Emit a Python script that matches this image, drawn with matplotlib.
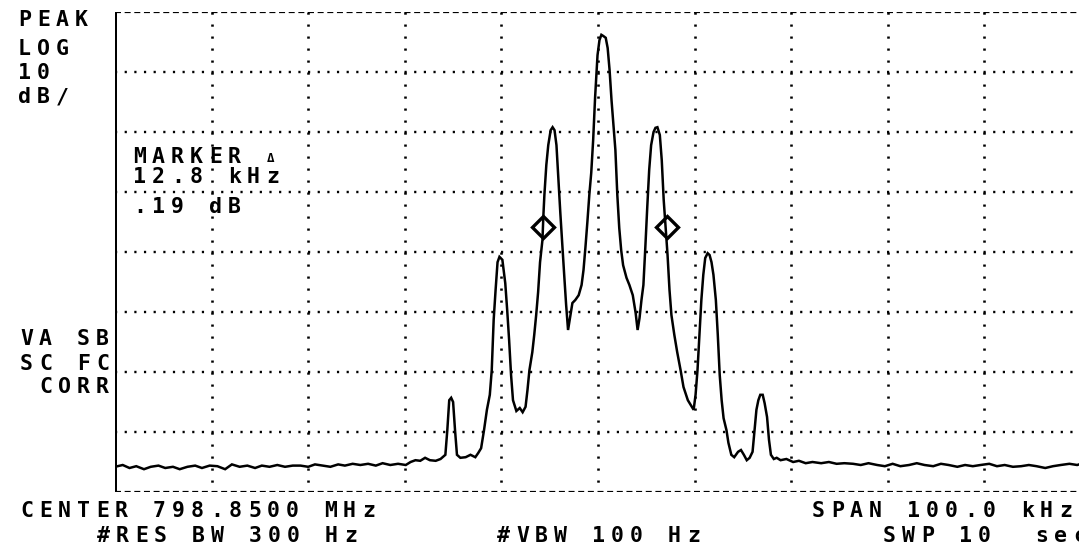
import matplotlib
matplotlib.use("Agg")
import matplotlib.pyplot as plt

plt.rcParams['lines.scale_dashes'] = False

W, H = 1079, 545

# trace: offset from 798.85 MHz (kHz), level below top line (dB)
trace_khz = [
    -50.0, -49.2, -48.5, -47.8, -47.0, -46.3, -45.5, -44.8, -44.0, -43.3,
    -42.5, -41.7, -41.0, -40.2, -39.4, -38.6, -37.9, -37.1, -36.3, -35.5,
    -34.8, -34.0, -33.2, -32.4, -31.6, -30.8, -30.0, -29.3, -28.5, -27.7,
    -26.9, -26.2, -25.4, -24.6, -23.8, -23.0, -22.3, -21.5, -20.7, -19.9,
    -19.4, -18.9, -18.4, -17.9, -17.4, -16.8, -16.3,
    -15.8, -15.6, -15.4, -15.2, -15.0, -14.8, -14.6, -14.25, -13.7, -13.2,
    -12.7, -12.4, -12.1, -11.8, -11.5, -11.2, -11.0, -10.8, -10.6, -10.4,
    -10.2, -9.9, -9.6, -9.4, -9.2, -9.0, -8.8, -8.45, -8.1, -7.8,
    -7.5, -7.3, -7.1, -6.8, -6.6, -6.4, -6.2, -6.0, -5.75, -5.65,
    -5.55, -5.35, -5.15, -4.9, -4.7, -4.5, -4.3, -4.1, -3.9, -3.7,
    -3.5, -3.3, -3.1, -2.85, -2.65, -2.35, -2.0, -1.7, -1.5, -1.3,
    -1.1, -0.9, -0.7, -0.5, -0.3, -0.05, 0.15, 0.35, 0.55, 0.8,
    1.0, 1.2, 1.4, 1.6, 1.8, 2.0, 2.2, 2.4, 2.6, 2.95,
    3.25, 3.6, 3.9, 4.1, 4.3, 4.5, 4.7, 4.9, 5.1, 5.3,
    5.5, 5.75, 5.95, 6.15, 6.4, 6.6, 6.8, 7.0, 7.2, 7.4,
    7.6, 7.9, 8.2, 8.55, 8.85, 9.3, 9.6, 9.9, 10.1, 10.3,
    10.5, 10.7, 10.9, 11.1, 11.35, 11.55, 11.75, 11.95, 12.2, 12.4,
    12.6, 12.8, 13.0, 13.3, 13.5, 13.8, 14.1, 14.5, 14.8, 15.1,
    15.4, 15.7, 16.0, 16.2, 16.4, 16.6, 16.8, 17.05, 17.25, 17.5,
    17.7, 17.9, 18.2, 18.5,
    18.9, 19.5, 20.2, 20.8, 21.5, 22.2, 23.1, 23.9, 24.7, 25.5,
    26.4, 27.2, 28.0, 28.9, 29.7, 30.5, 31.3, 32.2, 33.0, 33.8,
    34.7, 35.5, 36.3, 37.2, 38.0, 38.8, 39.6, 40.5, 41.3, 42.1,
    42.95, 43.8, 44.6, 45.4, 46.3, 47.1, 47.9, 48.8, 49.6, 50.0,
]
trace_db = [
    -75.8, -75.5, -76.0, -75.7, -76.2, -75.8, -75.6, -76.0, -75.8, -76.2,
    -75.8, -75.6, -76.0, -75.6, -75.7, -76.2, -75.4, -75.8, -75.6, -76.0,
    -75.6, -75.8, -75.5, -75.8, -75.6, -75.6, -75.8, -75.4, -75.6, -75.8,
    -75.4, -75.6, -75.3, -75.5, -75.3, -75.6, -75.2, -75.5, -75.3, -75.5,
    -75.0, -74.7, -74.8, -74.3, -74.7, -74.8, -74.5,
    -73.8, -69.7, -64.7, -64.3, -65.0, -69.7, -73.8, -74.3, -74.2, -73.8,
    -74.2, -73.5, -72.7, -69.7, -66.3, -63.8, -59.7, -51.3, -46.3, -41.7,
    -40.8, -41.3, -45.2, -49.7, -54.7, -60.5, -64.7, -66.5, -66.0, -66.7,
    -65.8, -63.0, -59.7, -56.7, -53.8, -50.5, -46.7, -41.7, -38.0, -33.8,
    -30.5, -25.5, -22.2, -19.7, -19.2, -19.7, -22.2, -28.0, -33.5, -38.8,
    -43.8, -48.8, -53.0, -50.5, -48.5, -48.0, -47.2, -45.5, -43.0, -39.2,
    -35.0, -30.5, -26.8, -21.3, -14.2, -7.2, -4.7, -3.8, -4.0, -4.3,
    -6.0, -9.7, -14.7, -18.8, -23.0, -30.5, -36.0, -39.7, -42.2, -44.3,
    -45.5, -47.2, -50.2, -53.0, -51.0, -48.0, -45.5, -39.2, -32.5, -26.3,
    -22.2, -20.0, -19.3, -19.2, -20.5, -24.7, -31.3, -36.0, -40.5, -46.3,
    -50.5, -53.8, -56.7, -59.7, -62.5, -64.7, -65.5, -66.3, -63.8, -59.7,
    -53.8, -48.0, -43.8, -41.0, -40.2, -40.5, -41.7, -43.8, -48.0, -53.8,
    -60.5, -64.7, -67.7, -69.7, -71.8, -73.8, -74.2, -73.3, -73.0, -73.8,
    -74.7, -74.3, -73.3, -69.7, -66.3, -64.7, -63.8, -63.8, -65.2, -67.5,
    -71.3, -73.8, -74.5, -74.3,
    -74.7, -74.5, -75.0, -74.8, -75.2, -75.0, -75.2, -75.0, -75.3, -75.2,
    -75.3, -75.5, -75.2, -75.5, -75.7, -75.3, -75.7, -75.5, -75.2, -75.5,
    -75.7, -75.3, -75.5, -75.8, -75.5, -75.7, -75.5, -75.3, -75.7, -75.5,
    -75.8, -75.7, -75.5, -75.7, -76.0, -75.7, -75.5, -75.3, -75.5, -75.3,
]

# delta markers
marker_khz = [-5.7, 7.1]
marker_db = [-35.8, -35.8]

grid_khz = [-40, -30, -20, -10, 0, 10, 20, 30, 40]
grid_db = [-10, -20, -30, -40, -50, -60, -70]

# screen annotations: (text, left x px, baseline y px)
screen_text = [
    ("PEAK", 18, 26),
    ("LOG", 18, 55),
    ("10", 18, 79),
    ("dB/", 18, 103),
    ("MARKER", 133, 163),
    ("12.8 kHz", 133, 183),
    (".19 dB", 133, 213),
    ("VA SB", 20, 345),
    ("SC FC", 20, 370),
    ("CORR", 39, 393),
    ("CENTER 798.8500 MHz", 20, 517),
    ("#RES BW 300 Hz", 97, 542),
    ("#VBW 100 Hz", 497, 542),
    ("SPAN 100.0 kHz", 812, 517),
    ("SWP 10  sec", 883, 542),
]

fig = plt.figure(figsize=(W / 100, H / 100), dpi=100)
fig.patch.set_facecolor("white")

left, right, top, bottom = 115, 1081, 12, 492
ax = fig.add_axes([left / W, 1 - bottom / H, (right - left) / W, (bottom - top) / H])
ax.set_xlim(-50, 50)
ax.set_ylim(-80, 0)
ax.set_xticks([])
ax.set_yticks([])
for s in ax.spines.values():
    s.set_visible(False)

px = 0.72  # one pixel in points

# graticule
for g in grid_db:
    ax.plot([-50, 50], [g, g], color="black", lw=2.4 * px,
            dashes=(2.2 * px, 7.45 * px), dash_capstyle="butt")
for g in grid_khz:
    ax.plot([g, g], [0, -80], color="black", lw=2.6 * px,
            dashes=(2.2 * px, 9.8 * px), dash_capstyle="butt")
for g in [0, -80]:
    ax.plot([-50, 50], [g, g], color="black", lw=2.2 * px,
            dashes=(6 * px, 3.65 * px), dash_capstyle="butt")
ax.plot([-50, -50], [0, -80], color="black", lw=3 * px, solid_capstyle="butt")

ax.plot(trace_khz, trace_db, color="black", lw=2.5 * px, solid_joinstyle="miter")
ax.plot(marker_khz, marker_db, ls="none", marker="D", ms=11, mfc="none",
        mec="black", mew=2.4)

pitch = 19
for text, x0, yb in screen_text:
    for i, ch in enumerate(text):
        if ch == " ":
            continue
        fig.text((x0 + i * pitch + 6.5) / W, 1 - yb / H, ch, ha="center",
                 va="baseline", fontsize=15.5, fontweight="bold",
                 family="DejaVu Sans Mono", color="black")
# small delta sign after MARKER
fig.text((133 + 7 * pitch + 5) / W, 1 - 162 / H, "\u0394", ha="center",
         va="baseline", fontsize=9, fontweight="bold",
         family="DejaVu Sans Mono", color="black")

fig.savefig("out.png", dpi=100, facecolor="white")
